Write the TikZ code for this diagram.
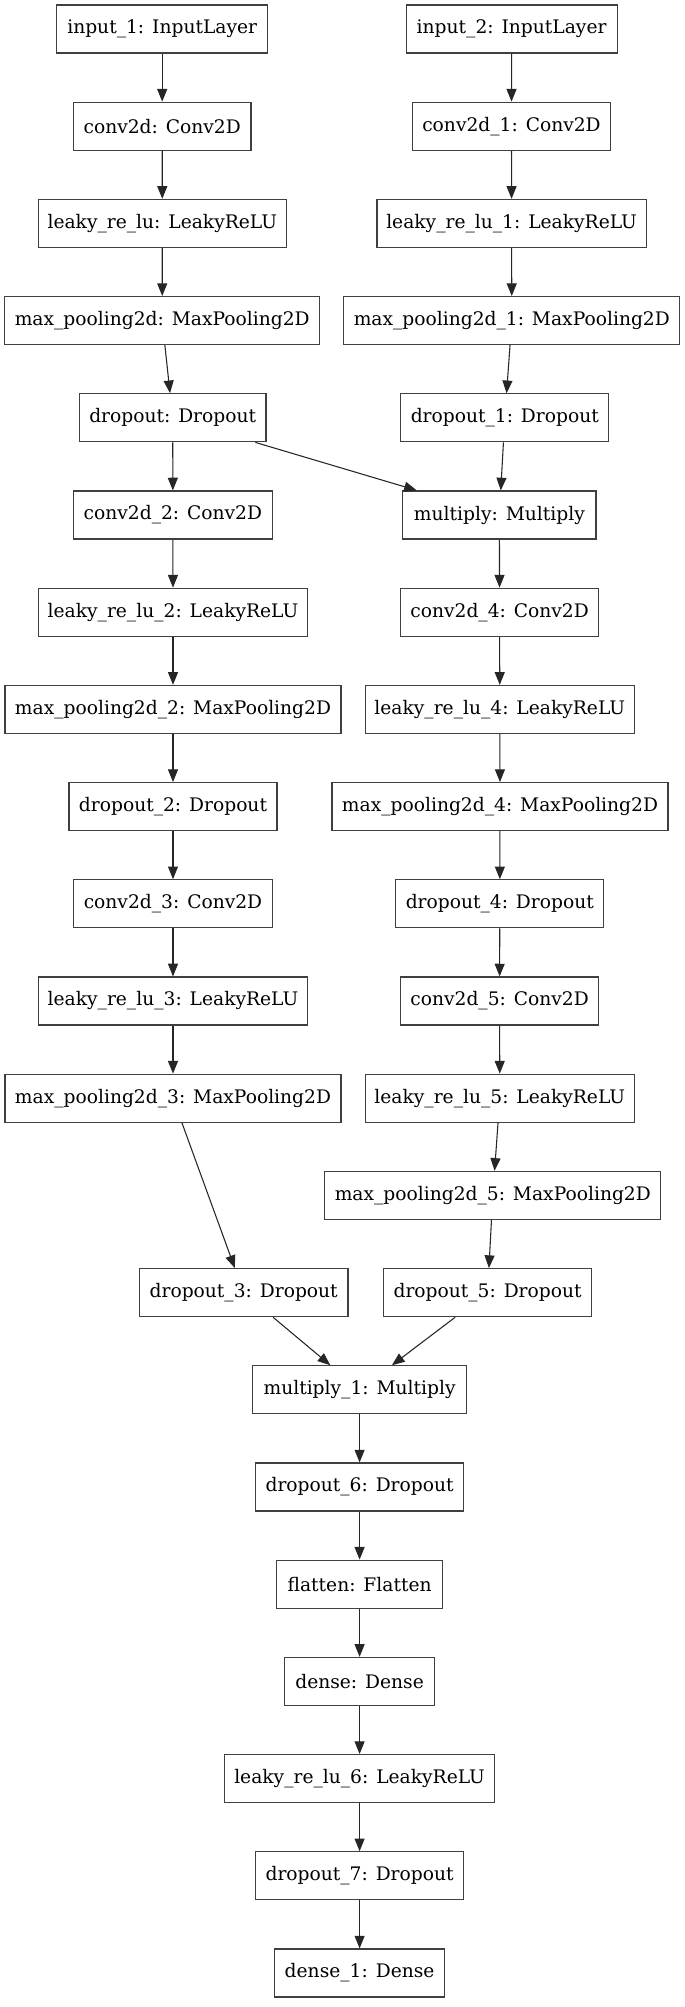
\documentclass[tikz,border=0pt]{standalone}
\usepackage{fontspec}
\setmainfont{DejaVu Serif}
\usetikzlibrary{arrows.meta}
\begin{document}
\begin{tikzpicture}[x=0.75pt,y=-0.75pt,
  layer/.style={draw=black!75, line width=0.9pt, fill=white, rectangle,
    minimum height=36pt, inner xsep=3pt, inner ysep=0pt,
    font=\fontsize{14}{16}\selectfont},
  flow/.style={draw=black!85, line width=0.8pt, -{Triangle[length=9.5pt,width=7.5pt]}}]
\useasboundingbox[fill=white] (0,0) rectangle (685,2007);
% left branch
\node[layer, minimum width=158.25pt] (in1) at (162.2,29) {input\_1: InputLayer};
\node[layer, minimum width=133.3pt] (c0) at (162.2,126.2) {conv2d: Conv2D};
\node[layer, minimum width=186pt] (lr0) at (162.3,223.4) {leaky\_re\_lu: LeakyReLU};
\node[layer, minimum width=236.1pt] (mp0) at (162.2,320.6) {max\_pooling2d: MaxPooling2D};
\node[layer, minimum width=139.9pt] (do0) at (172.7,417.8) {dropout: Dropout};
\node[layer, minimum width=149.25pt] (c2) at (172.9,515) {conv2d\_2: Conv2D};
\node[layer, minimum width=202pt] (lr2) at (173,612.2) {leaky\_re\_lu\_2: LeakyReLU};
\node[layer, minimum width=252pt] (mp2) at (173,709.4) {max\_pooling2d\_2: MaxPooling2D};
\node[layer, minimum width=156pt] (do2) at (173,806.6) {dropout\_2: Dropout};
\node[layer, minimum width=149.25pt] (c3) at (173,903.8) {conv2d\_3: Conv2D};
\node[layer, minimum width=202pt] (lr3) at (173,1001) {leaky\_re\_lu\_3: LeakyReLU};
\node[layer, minimum width=252pt] (mp3) at (173,1098.2) {max\_pooling2d\_3: MaxPooling2D};
\node[layer, minimum width=156.5pt] (do3) at (243.7,1292.6) {dropout\_3: Dropout};
% right branch
\node[layer, minimum width=158.25pt] (in2) at (511.6,29) {input\_2: InputLayer};
\node[layer, minimum width=148.5pt] (c1) at (511.5,126.2) {conv2d\_1: Conv2D};
\node[layer, minimum width=202pt] (lr1) at (511.6,223.4) {leaky\_re\_lu\_1: LeakyReLU};
\node[layer, minimum width=252pt] (mp1) at (511.8,320.6) {max\_pooling2d\_1: MaxPooling2D};
\node[layer, minimum width=156pt] (do1) at (504.8,417.8) {dropout\_1: Dropout};
\node[layer, minimum width=145pt] (mul) at (499.4,515) {multiply: Multiply};
\node[layer, minimum width=148.5pt] (c4) at (499.6,612.2) {conv2d\_4: Conv2D};
\node[layer, minimum width=202pt] (lr4) at (499.8,709.4) {leaky\_re\_lu\_4: LeakyReLU};
\node[layer, minimum width=252pt] (mp4) at (500,806.6) {max\_pooling2d\_4: MaxPooling2D};
\node[layer, minimum width=156pt] (do4) at (499.8,903.8) {dropout\_4: Dropout};
\node[layer, minimum width=148.5pt] (c5) at (499.6,1001) {conv2d\_5: Conv2D};
\node[layer, minimum width=202pt] (lr5) at (499.8,1098.2) {leaky\_re\_lu\_5: LeakyReLU};
\node[layer, minimum width=252pt] (mp5) at (492.8,1195.4) {max\_pooling2d\_5: MaxPooling2D};
\node[layer, minimum width=156pt] (do5) at (487.6,1292.6) {dropout\_5: Dropout};
% trunk
\node[layer, minimum width=160.8pt] (mul1) at (359.6,1389.8) {multiply\_1: Multiply};
\node[layer, minimum width=156pt] (do6) at (359.6,1487) {dropout\_6: Dropout};
\node[layer, minimum width=124.1pt] (fl) at (359.6,1584.2) {flatten: Flatten};
\node[layer, minimum width=112.5pt] (de) at (359.6,1681.4) {dense: Dense};
\node[layer, minimum width=202.5pt] (lr6) at (359.6,1778.6) {leaky\_re\_lu\_6: LeakyReLU};
\node[layer, minimum width=156pt] (do7) at (359.6,1875.8) {dropout\_7: Dropout};
\node[layer, minimum width=127.5pt] (de1) at (359.6,1973) {dense\_1: Dense};
% connectors
\draw[flow] (in1) -- (c0);
\draw[flow] (c0) -- (lr0);
\draw[flow] (lr0) -- (mp0);
\draw[flow] (mp0) -- (do0);
\draw[flow] (do0) -- (c2);
\draw[flow] (do0) -- (mul);
\draw[flow] (c2) -- (lr2);
\draw[flow] (lr2) -- (mp2);
\draw[flow] (mp2) -- (do2);
\draw[flow] (do2) -- (c3);
\draw[flow] (c3) -- (lr3);
\draw[flow] (lr3) -- (mp3);
\draw[flow] (mp3) -- (do3);
\draw[flow] (in2) -- (c1);
\draw[flow] (c1) -- (lr1);
\draw[flow] (lr1) -- (mp1);
\draw[flow] (mp1) -- (do1);
\draw[flow] (do1) -- (mul);
\draw[flow] (mul) -- (c4);
\draw[flow] (c4) -- (lr4);
\draw[flow] (lr4) -- (mp4);
\draw[flow] (mp4) -- (do4);
\draw[flow] (do4) -- (c5);
\draw[flow] (c5) -- (lr5);
\draw[flow] (lr5) -- (mp5);
\draw[flow] (mp5) -- (do5);
\draw[flow] (do3) -- (mul1);
\draw[flow] (do5) -- (mul1);
\draw[flow] (mul1) -- (do6);
\draw[flow] (do6) -- (fl);
\draw[flow] (fl) -- (de);
\draw[flow] (de) -- (lr6);
\draw[flow] (lr6) -- (do7);
\draw[flow] (do7) -- (de1);
\end{tikzpicture}
\end{document}
